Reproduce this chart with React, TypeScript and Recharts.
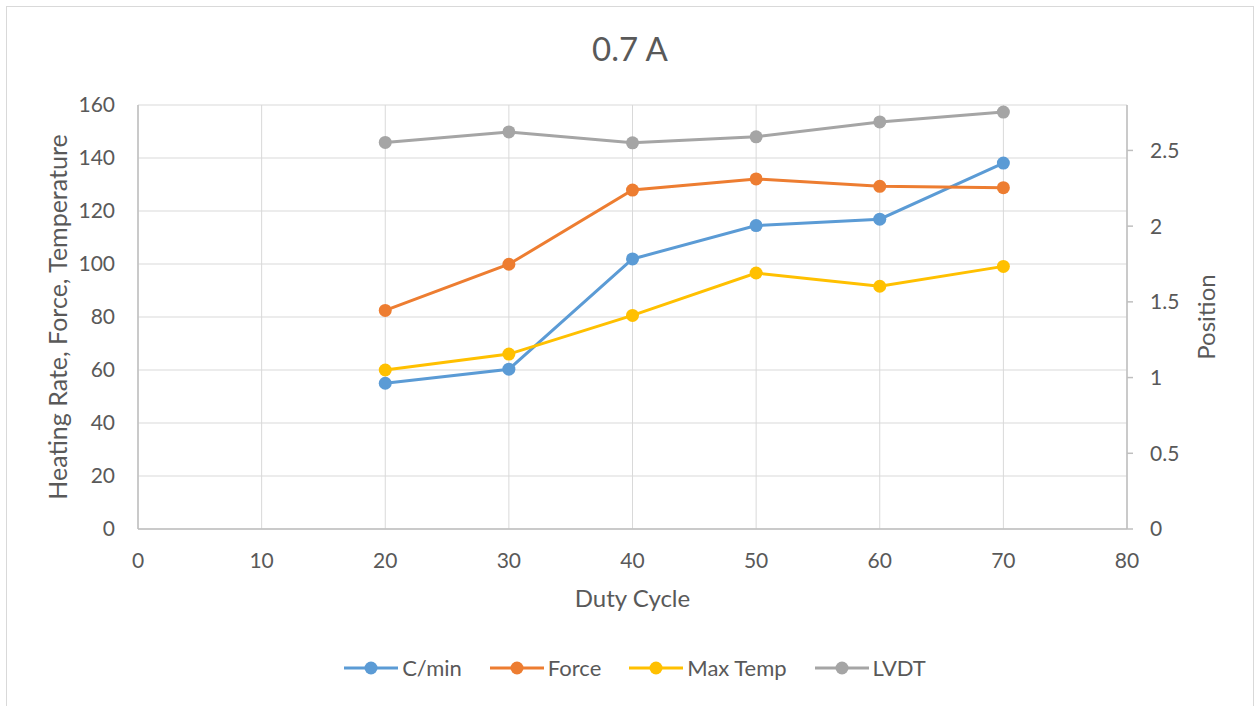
import React from 'react';
import {
  CartesianGrid,
  Legend,
  Line,
  LineChart,
  XAxis,
  YAxis,
} from 'recharts';

const dutyCycle = [20, 30, 40, 50, 60, 70];
const heatingRate = [55.0, 60.3, 101.9, 114.5, 116.9, 138.1];
const force = [82.5, 99.9, 127.9, 132.1, 129.3, 128.8];
const maxTemp = [60.0, 66.0, 80.6, 96.6, 91.6, 99.1];
const lvdt = [2.553, 2.622, 2.55, 2.59, 2.688, 2.753];

const xTicks = [0, 10, 20, 30, 40, 50, 60, 70, 80];
const leftTicks = [0, 20, 40, 60, 80, 100, 120, 140, 160];
const rightTicks = [0, 0.5, 1, 1.5, 2, 2.5];

const series = [
  { key: 'cmin', name: 'C/min', color: '#5B9BD5', axis: 'left' },
  { key: 'force', name: 'Force', color: '#ED7D31', axis: 'left' },
  { key: 'maxTemp', name: 'Max Temp', color: '#FFC000', axis: 'left' },
  { key: 'lvdt', name: 'LVDT', color: '#A5A5A5', axis: 'right' },
];

const rows = dutyCycle.map((d, i) => ({
  duty: d,
  cmin: heatingRate[i],
  force: force[i],
  maxTemp: maxTemp[i],
  lvdt: lvdt[i],
}));

const FONT = 'Lato, "Open Sans", sans-serif';
const TEXT = '#595959';
const tickStyle = { fontSize: 21, fill: TEXT, fontFamily: FONT };

function LegendRow() {
  return (
    <div
      style={{
        display: 'flex',
        justifyContent: 'center',
        alignItems: 'center',
        gap: 28,
        fontFamily: FONT,
        fontSize: 22,
        color: TEXT,
      }}
    >
      {series.map((s) => (
        <div key={s.key} style={{ display: 'flex', alignItems: 'center' }}>
          <svg width={54} height={16}>
            <line x1={0} y1={8} x2={54} y2={8} stroke={s.color} strokeWidth={3} />
            <circle cx={27} cy={8} r={6.5} fill={s.color} />
          </svg>
          <span style={{ marginLeft: 4 }}>{s.name}</span>
        </div>
      ))}
    </div>
  );
}

export default function App() {
  return (
    <div
      style={{
        position: 'fixed',
        left: 0,
        top: 0,
        width: 1254,
        height: 706,
        background: '#fff',
        overflow: 'hidden',
      }}
    >
      <div
        style={{
          position: 'absolute',
          left: 6,
          top: 6,
          width: 1246,
          height: 720,
          border: '1px solid #d9d9d9',
        }}
      />
      <div
        style={{
          position: 'absolute',
          left: 0,
          width: 1260,
          top: 28,
          textAlign: 'center',
          fontFamily: FONT,
          fontSize: 33,
          color: TEXT,
          lineHeight: '40px',
        }}
      >
        0.7 A
      </div>
      <div style={{ position: 'absolute', left: 0, top: 0 }}>
        <LineChart
          width={1254}
          height={706}
          data={rows}
          margin={{ top: 105, right: 0, bottom: 87, left: 0 }}
        >
          <CartesianGrid stroke="#d9d9d9" strokeWidth={1} yAxisId="left" />
          <XAxis
            dataKey="duty"
            type="number"
            domain={[0, 80]}
            ticks={xTicks}
            height={90}
            tickSize={0}
            tickMargin={24}
            tick={tickStyle}
            axisLine={{ stroke: '#bfbfbf', strokeWidth: 1.5 }}
            tickLine={false}
            label={{
              value: 'Duty Cycle',
              position: 'center',
              dy: 24,
              style: { fontSize: 24, fill: TEXT, fontFamily: FONT },
            }}
          />
          <YAxis
            yAxisId="left"
            orientation="left"
            domain={[0, 160]}
            ticks={leftTicks}
            width={138}
            tickSize={0}
            tickMargin={23}
            tick={tickStyle}
            axisLine={{ stroke: '#bfbfbf', strokeWidth: 1.5 }}
            tickLine={false}
            label={{
              value: 'Heating Rate, Force, Temperature',
              angle: -90,
              position: 'center',
              dx: -11,
              style: { fontSize: 25, fill: TEXT, fontFamily: FONT, textAnchor: 'middle' },
            }}
          />
          <YAxis
            yAxisId="right"
            orientation="right"
            domain={[0, 2.8]}
            ticks={rightTicks}
            width={127}
            tickSize={6}
            tickMargin={17}
            tick={tickStyle}
            axisLine={{ stroke: '#bfbfbf', strokeWidth: 1.5 }}
            tickLine={{ stroke: '#bfbfbf', strokeWidth: 1.5 }}
            label={{
              value: 'Position',
              angle: -90,
              position: 'center',
              dx: 16,
              style: { fontSize: 24, fill: TEXT, fontFamily: FONT, textAnchor: 'middle' },
            }}
          />
          <Legend
            layout="horizontal"
            verticalAlign="middle"
            align="center"
            wrapperStyle={{ top: 654, left: 0, width: 1270 }}
            content={() => <LegendRow />}
          />
          {series.map((s) => (
            <Line
              key={s.key}
              yAxisId={s.axis}
              dataKey={s.key}
              name={s.name}
              type="linear"
              stroke={s.color}
              strokeWidth={3}
              dot={{ r: 6.5, fill: s.color, stroke: s.color, strokeWidth: 0 }}
              activeDot={false}
              isAnimationActive={false}
            />
          ))}
        </LineChart>
      </div>
    </div>
  );
}
